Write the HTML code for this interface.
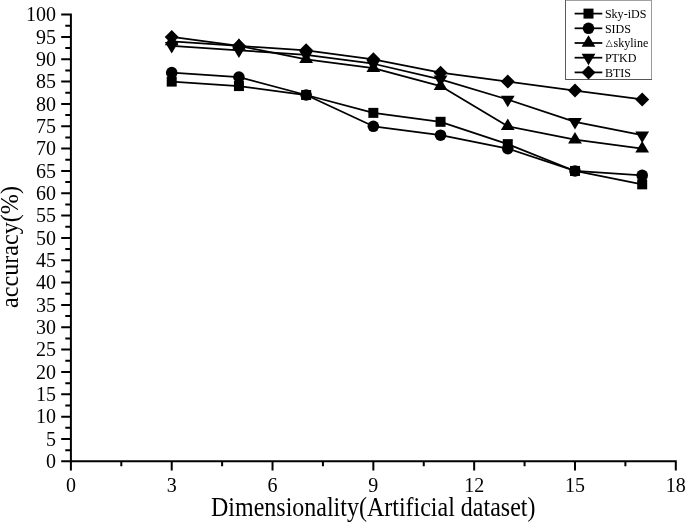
<!DOCTYPE html><html><head><meta charset="utf-8"><style>html,body{margin:0;padding:0;background:#fff;width:685px;height:522px;overflow:hidden}svg{display:block}text{font-family:"Liberation Serif","Times New Roman",serif;fill:#000}</style></head><body>
<svg width="685" height="522" viewBox="0 0 685 522">
<path d="M61.2,14.60 H70.90 V461.30 H675.80 V470.6 M61.2,461.30 H71.90 M65.3,450.13 H71.90 M61.2,438.97 H71.90 M65.3,427.80 H71.90 M61.2,416.63 H71.90 M65.3,405.46 H71.90 M61.2,394.30 H71.90 M65.3,383.13 H71.90 M61.2,371.96 H71.90 M65.3,360.79 H71.90 M61.2,349.62 H71.90 M65.3,338.46 H71.90 M61.2,327.29 H71.90 M65.3,316.12 H71.90 M61.2,304.96 H71.90 M65.3,293.79 H71.90 M61.2,282.62 H71.90 M65.3,271.45 H71.90 M61.2,260.29 H71.90 M65.3,249.12 H71.90 M61.2,237.95 H71.90 M65.3,226.78 H71.90 M61.2,215.62 H71.90 M65.3,204.45 H71.90 M61.2,193.28 H71.90 M65.3,182.11 H71.90 M61.2,170.95 H71.90 M65.3,159.78 H71.90 M61.2,148.61 H71.90 M65.3,137.44 H71.90 M61.2,126.28 H71.90 M65.3,115.11 H71.90 M61.2,103.94 H71.90 M65.3,92.77 H71.90 M61.2,81.61 H71.90 M65.3,70.44 H71.90 M61.2,59.27 H71.90 M65.3,48.10 H71.90 M61.2,36.94 H71.90 M65.3,25.77 H71.90 M70.90,460.30 V470.6 M121.31,460.30 V466.2 M171.72,460.30 V470.6 M222.12,460.30 V466.2 M272.53,460.30 V470.6 M322.94,460.30 V466.2 M373.35,460.30 V470.6 M423.76,460.30 V466.2 M474.17,460.30 V470.6 M524.57,460.30 V466.2 M574.98,460.30 V470.6 M625.39,460.30 V466.2" stroke="#000" stroke-width="2" fill="none" stroke-linecap="butt" stroke-linejoin="miter"/>
<text x="55.9" y="467.90" font-size="20" text-anchor="end">0</text>
<text x="55.9" y="445.57" font-size="20" text-anchor="end">5</text>
<text x="55.9" y="423.23" font-size="20" text-anchor="end">10</text>
<text x="55.9" y="400.90" font-size="20" text-anchor="end">15</text>
<text x="55.9" y="378.56" font-size="20" text-anchor="end">20</text>
<text x="55.9" y="356.23" font-size="20" text-anchor="end">25</text>
<text x="55.9" y="333.89" font-size="20" text-anchor="end">30</text>
<text x="55.9" y="311.56" font-size="20" text-anchor="end">35</text>
<text x="55.9" y="289.22" font-size="20" text-anchor="end">40</text>
<text x="55.9" y="266.89" font-size="20" text-anchor="end">45</text>
<text x="55.9" y="244.55" font-size="20" text-anchor="end">50</text>
<text x="55.9" y="222.22" font-size="20" text-anchor="end">55</text>
<text x="55.9" y="199.88" font-size="20" text-anchor="end">60</text>
<text x="55.9" y="177.55" font-size="20" text-anchor="end">65</text>
<text x="55.9" y="155.21" font-size="20" text-anchor="end">70</text>
<text x="55.9" y="132.88" font-size="20" text-anchor="end">75</text>
<text x="55.9" y="110.54" font-size="20" text-anchor="end">80</text>
<text x="55.9" y="88.21" font-size="20" text-anchor="end">85</text>
<text x="55.9" y="65.87" font-size="20" text-anchor="end">90</text>
<text x="55.9" y="43.54" font-size="20" text-anchor="end">95</text>
<text x="55.9" y="21.20" font-size="20" text-anchor="end">100</text>
<text x="70.90" y="491.7" font-size="20" text-anchor="middle">0</text>
<text x="171.72" y="491.7" font-size="20" text-anchor="middle">3</text>
<text x="272.53" y="491.7" font-size="20" text-anchor="middle">6</text>
<text x="373.35" y="491.7" font-size="20" text-anchor="middle">9</text>
<text x="474.17" y="491.7" font-size="20" text-anchor="middle">12</text>
<text x="574.98" y="491.7" font-size="20" text-anchor="middle">15</text>
<text x="675.80" y="491.7" font-size="20" text-anchor="middle">18</text>
<text transform="translate(211,515.6) scale(1,1.1)" font-size="24">Dimensionality(Artificial dataset)</text>
<text transform="translate(17.9,308.0) rotate(-90) scale(1.007,1.08)" font-size="24">accuracy(%)</text>
<polyline points="171.72,81.61 238.93,86.07 306.14,95.01 373.35,112.87 440.56,121.81 507.77,144.14 574.98,170.95 642.19,184.35" fill="none" stroke="#000" stroke-width="1.75" stroke-linejoin="round"/>
<polyline points="171.72,72.67 238.93,77.14 306.14,95.01 373.35,126.28 440.56,135.21 507.77,148.61 574.98,170.95 642.19,175.41" fill="none" stroke="#000" stroke-width="1.75" stroke-linejoin="round"/>
<polyline points="171.72,41.40 238.93,45.87 306.14,59.27 373.35,68.20 440.56,86.07 507.77,126.28 574.98,139.68 642.19,148.61" fill="none" stroke="#000" stroke-width="1.75" stroke-linejoin="round"/>
<polyline points="171.72,45.87 238.93,50.34 306.14,54.80 373.35,63.74 440.56,79.37 507.77,99.47 574.98,121.81 642.19,135.21" fill="none" stroke="#000" stroke-width="1.75" stroke-linejoin="round"/>
<polyline points="171.72,36.94 238.93,45.87 306.14,50.34 373.35,59.27 440.56,72.67 507.77,81.61 574.98,90.54 642.19,99.47" fill="none" stroke="#000" stroke-width="1.75" stroke-linejoin="round"/>
<g fill="#000"><rect x="166.72" y="76.61" width="10.00" height="10.00"/><rect x="233.93" y="81.07" width="10.00" height="10.00"/><rect x="301.14" y="90.01" width="10.00" height="10.00"/><rect x="368.35" y="107.87" width="10.00" height="10.00"/><rect x="435.56" y="116.81" width="10.00" height="10.00"/><rect x="502.77" y="139.14" width="10.00" height="10.00"/><rect x="569.98" y="165.95" width="10.00" height="10.00"/><rect x="637.19" y="179.35" width="10.00" height="10.00"/></g>
<g fill="#000"><circle cx="171.72" cy="72.67" r="5.8"/><circle cx="238.93" cy="77.14" r="5.8"/><circle cx="306.14" cy="95.01" r="5.8"/><circle cx="373.35" cy="126.28" r="5.8"/><circle cx="440.56" cy="135.21" r="5.8"/><circle cx="507.77" cy="148.61" r="5.8"/><circle cx="574.98" cy="170.95" r="5.8"/><circle cx="642.19" cy="175.41" r="5.8"/></g>
<g fill="#000"><polygon points="171.72,33.74 178.62,45.24 164.82,45.24"/><polygon points="238.93,38.20 245.83,49.70 232.03,49.70"/><polygon points="306.14,51.60 313.04,63.10 299.24,63.10"/><polygon points="373.35,60.54 380.25,72.04 366.45,72.04"/><polygon points="440.56,78.41 447.46,89.91 433.66,89.91"/><polygon points="507.77,118.61 514.67,130.11 500.87,130.11"/><polygon points="574.98,132.01 581.88,143.51 568.08,143.51"/><polygon points="642.19,140.94 649.09,152.44 635.29,152.44"/></g>
<g fill="#000"><polygon points="164.82,42.04 178.62,42.04 171.72,53.54"/><polygon points="232.03,46.50 245.83,46.50 238.93,58.00"/><polygon points="299.24,50.97 313.04,50.97 306.14,62.47"/><polygon points="366.45,59.90 380.25,59.90 373.35,71.40"/><polygon points="433.66,75.54 447.46,75.54 440.56,87.04"/><polygon points="500.87,95.64 514.67,95.64 507.77,107.14"/><polygon points="568.08,117.97 581.88,117.97 574.98,129.47"/><polygon points="635.29,131.38 649.09,131.38 642.19,142.88"/></g>
<g fill="#000"><polygon points="171.72,29.94 178.72,36.94 171.72,43.94 164.72,36.94"/><polygon points="238.93,38.87 245.93,45.87 238.93,52.87 231.93,45.87"/><polygon points="306.14,43.34 313.14,50.34 306.14,57.34 299.14,50.34"/><polygon points="373.35,52.27 380.35,59.27 373.35,66.27 366.35,59.27"/><polygon points="440.56,65.67 447.56,72.67 440.56,79.67 433.56,72.67"/><polygon points="507.77,74.61 514.77,81.61 507.77,88.61 500.77,81.61"/><polygon points="574.98,83.54 581.98,90.54 574.98,97.54 567.98,90.54"/><polygon points="642.19,92.47 649.19,99.47 642.19,106.47 635.19,99.47"/></g>
<rect x="565.5" y="0" width="86" height="79.5" fill="#fff"/>
<path d="M565,0 H652" stroke="#444" stroke-width="1"/>
<path d="M565.5,0 V80" stroke="#5a5a5a" stroke-width="1"/>
<path d="M651.5,0 V80" stroke="#999" stroke-width="1"/>
<path d="M565,79.5 H652" stroke="#555" stroke-width="1"/>
<line x1="574.6" y1="13.60" x2="602.3" y2="13.60" stroke="#000" stroke-width="1.75"/>
<g fill="#000"><rect x="583.50" y="8.60" width="10.00" height="10.00"/></g>
<text transform="translate(604.9,17.80) scale(0.965,1)" font-size="12.5">Sky-iDS</text>
<line x1="574.6" y1="28.30" x2="602.3" y2="28.30" stroke="#000" stroke-width="1.75"/>
<g fill="#000"><circle cx="588.50" cy="28.30" r="5.8"/></g>
<text transform="translate(604.9,32.50) scale(0.965,1)" font-size="12.5">SIDS</text>
<line x1="574.6" y1="43.00" x2="602.3" y2="43.00" stroke="#000" stroke-width="1.75"/>
<g fill="#000"><polygon points="588.50,35.33 595.40,46.83 581.60,46.83"/></g>
<text transform="translate(604.9,47.20) scale(0.965,1)" font-size="12.5"><tspan font-family="DejaVu Sans, sans-serif" font-size="9.4" dx="0.8" dy="-1.1">△</tspan><tspan dx="0.9" dy="1.1">skyline</tspan></text>
<line x1="574.6" y1="57.70" x2="602.3" y2="57.70" stroke="#000" stroke-width="1.75"/>
<g fill="#000"><polygon points="581.60,53.87 595.40,53.87 588.50,65.37"/></g>
<text transform="translate(604.9,61.90) scale(0.965,1)" font-size="12.5">PTKD</text>
<line x1="574.6" y1="72.40" x2="602.3" y2="72.40" stroke="#000" stroke-width="1.75"/>
<g fill="#000"><polygon points="588.50,65.40 595.50,72.40 588.50,79.40 581.50,72.40"/></g>
<text transform="translate(604.9,76.60) scale(0.965,1)" font-size="12.5">BTIS</text>
</svg></body></html>
